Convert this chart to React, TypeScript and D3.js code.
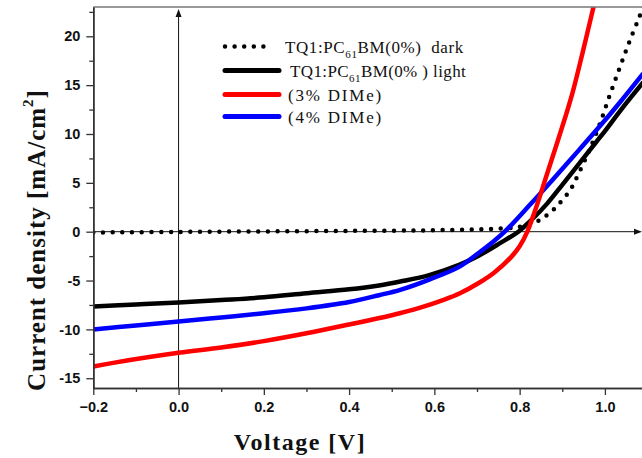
import React, { useRef, useEffect } from 'react';
import * as d3 from 'd3';

// J-V curves, [voltage (V), current density (mA/cm2)]
const darkCurve: [number, number][] = [
  [-0.2, -0.08], [0.0, -0.02], [0.2, 0.03], [0.4, 0.08], [0.6, 0.15], [0.7, 0.25], [0.77, 0.35],
  [0.8, 0.5], [0.834, 0.9], [0.854, 1.4], [0.873, 2.0], [0.889, 2.7], [0.905, 3.5], [0.919, 4.3],
  [0.93, 5.2], [0.96, 8.0], [0.987, 10.9], [1.01, 13.8], [1.034, 16.7], [1.057, 19.4], [1.08, 21.9], [1.095, 23.5],
];
const lightCurve: [number, number][] = [
  [-0.2, -7.65], [-0.1, -7.45], [0.0, -7.25], [0.1, -7.0], [0.2, -6.72], [0.3, -6.3], [0.4, -5.9],
  [0.47, -5.5], [0.52, -5.1], [0.588, -4.45], [0.658, -3.4], [0.706, -2.4], [0.753, -1.2], [0.797, 0.0],
  [0.83, 1.3], [0.865, 2.9], [0.9, 4.8], [0.94, 7.0], [0.98, 9.2], [1.0, 10.3], [1.04, 12.6], [1.09, 15.3],
];
const dime3Curve: [number, number][] = [
  [-0.2, -13.8], [-0.15, -13.4], [0.0, -12.4], [0.1, -11.85], [0.2, -11.2], [0.3, -10.4], [0.4, -9.5],
  [0.5, -8.55], [0.565, -7.8], [0.62, -7.0], [0.66, -6.3], [0.706, -5.2], [0.74, -4.2],
  [0.78, -2.6], [0.8, -1.5], [0.818, 0.0], [0.842, 2.9], [0.862, 5.6], [0.888, 9.1], [0.909, 12.0],
  [0.924, 14.2], [0.947, 18.2], [0.971, 22.6], [0.985, 25.2],
];
const dime4Curve: [number, number][] = [
  [-0.2, -10.0], [-0.1, -9.6], [0.0, -9.2], [0.1, -8.78], [0.2, -8.35], [0.3, -7.85], [0.4, -7.2],
  [0.47, -6.5], [0.52, -5.95], [0.588, -4.9], [0.658, -3.6], [0.706, -2.1], [0.74, -0.95], [0.765, 0.0],
  [0.823, 2.7], [0.877, 5.3], [0.94, 8.4], [1.0, 11.4], [1.04, 13.5], [1.09, 16.2],
];

const xMajorTicks = [-0.2, 0.0, 0.2, 0.4, 0.6, 0.8, 1.0];
const xMinorTicks = [-0.1, 0.1, 0.3, 0.5, 0.7, 0.9];
const yMajorTicks = [-15, -10, -5, 0, 5, 10, 15, 20];
const yMinorTicks = [-12.5, -7.5, -2.5, 2.5, 7.5, 12.5, 17.5, 22.5];

const legendItems = [
  { pre: 'TQ1:PC', sub: '61', post: 'BM(0%)  dark', color: '#000', dotted: true, dx: 60, spacing: 0.6 },
  { pre: 'TQ1:PC', sub: '61', post: 'BM(0% ) light', color: '#000', dotted: false, dx: 65, spacing: 0.4 },
  { pre: '(3% DIMe)', sub: '', post: '', color: '#ff0000', dotted: false, dx: 63, spacing: 1.8 },
  { pre: '(4% DIMe)', sub: '', post: '', color: '#0000ff', dotted: false, dx: 63, spacing: 1.8 },
];

const W = 642;
const H = 458;

const App = () => {
  const svgRef = useRef<SVGSVGElement>(null);

  useEffect(() => {
    const svg = d3.select(svgRef.current);
    svg.selectAll('*').remove();

    const left = 93.3, top = 7, right = 642, bottom = 388;
    const x = d3.scaleLinear().domain([-0.2, 1.087]).range([left, right]);
    const y = d3.scaleLinear().domain([-16, 23]).range([bottom, top]);

    svg.append('defs').append('clipPath').attr('id', 'plotClip')
      .append('rect')
      .attr('x', left).attr('y', top)
      .attr('width', right - left).attr('height', bottom - top);

    // zero lines with arrows
    svg.append('line')
      .attr('x1', x(0)).attr('x2', x(0))
      .attr('y1', bottom).attr('y2', 12)
      .attr('stroke', '#111').attr('stroke-width', 1);
    svg.append('path')
      .attr('d', `M${x(0)},9 L${x(0) - 3},17 L${x(0) + 3},17 Z`)
      .attr('fill', '#111');
    svg.append('line')
      .attr('x1', left).attr('x2', 636)
      .attr('y1', y(0)).attr('y2', y(0))
      .attr('stroke', '#111').attr('stroke-width', 1);
    svg.append('path')
      .attr('d', `M642,${y(0)} L634,${y(0) - 3} L634,${y(0) + 3} Z`)
      .attr('fill', '#111');

    // curves
    const line = d3.line<[number, number]>()
      .x(d => x(d[0]))
      .y(d => y(d[1]))
      .curve(d3.curveCatmullRom.alpha(0.5));

    const plot = svg.append('g').attr('clip-path', 'url(#plotClip)');
    plot.append('path').datum(darkCurve)
      .attr('d', line).attr('fill', 'none')
      .attr('stroke', '#000').attr('stroke-width', 4.5)
      .attr('stroke-linecap', 'round').attr('stroke-dasharray', '0 9.7');
    plot.append('path').datum(lightCurve)
      .attr('d', line).attr('fill', 'none')
      .attr('stroke', '#000').attr('stroke-width', 4.5);
    plot.append('path').datum(dime4Curve)
      .attr('d', line).attr('fill', 'none')
      .attr('stroke', '#0000ff').attr('stroke-width', 4.5);
    plot.append('path').datum(dime3Curve)
      .attr('d', line).attr('fill', 'none')
      .attr('stroke', '#ff0000').attr('stroke-width', 4.5);

    // frame
    svg.append('line')
      .attr('x1', left).attr('x2', right)
      .attr('y1', top).attr('y2', top)
      .attr('stroke', '#777').attr('stroke-width', 1.5);

    const styleAxis = (g: any) => {
      g.select('.domain').attr('stroke', '#333').attr('stroke-width', 1.5);
      g.selectAll('.tick line').attr('stroke', '#333').attr('stroke-width', 1.3);
      g.selectAll('.tick text')
        .attr('fill', '#111')
        .attr('font-family', '"Liberation Sans", Arial, sans-serif')
        .attr('font-weight', 'bold')
        .attr('font-size', '14.5px');
    };

    const xAxis = svg.append('g')
      .attr('transform', `translate(0,${bottom})`)
      .call(d3.axisBottom(x).tickValues(xMajorTicks).tickSize(7).tickSizeOuter(0).tickPadding(7)
        .tickFormat(d => d3.format('.1f')(d as number)));
    styleAxis(xAxis);
    const xMinor = svg.append('g')
      .attr('transform', `translate(0,${bottom})`)
      .call(d3.axisBottom(x).tickValues(xMinorTicks).tickSize(4).tickSizeOuter(0).tickFormat(() => ''));
    styleAxis(xMinor);

    const yAxis = svg.append('g')
      .attr('transform', `translate(${left},0)`)
      .call(d3.axisLeft(y).tickValues(yMajorTicks).tickSize(7).tickSizeOuter(0).tickPadding(6)
        .tickFormat(d => String(d)));
    styleAxis(yAxis);
    const yMinor = svg.append('g')
      .attr('transform', `translate(${left},0)`)
      .call(d3.axisLeft(y).tickValues(yMinorTicks).tickSize(4).tickSizeOuter(0).tickFormat(() => ''));
    styleAxis(yMinor);

    // axis titles
    svg.append('text')
      .attr('x', 300).attr('y', 450)
      .attr('text-anchor', 'middle')
      .attr('font-family', '"Liberation Serif", "Times New Roman", serif')
      .attr('font-weight', 'bold')
      .attr('font-size', '24px')
      .attr('letter-spacing', '1.5px')
      .attr('fill', '#111')
      .text('Voltage [V]');

    const yTitle = svg.append('text')
      .attr('transform', 'translate(45,240) rotate(-90)')
      .attr('text-anchor', 'middle')
      .attr('font-family', '"Liberation Serif", "Times New Roman", serif')
      .attr('font-weight', 'bold')
      .attr('font-size', '25px')
      .attr('letter-spacing', '1px')
      .attr('fill', '#111');
    yTitle.append('tspan').text('Current density [mA/cm');
    yTitle.append('tspan').attr('font-size', '15px').attr('dy', -12).text('2');
    yTitle.append('tspan').attr('dy', 12).text(']');

    // legend
    const rowY = [46.5, 70.5, 94.5, 116.5];
    const legend = svg.append('g');
    legendItems.forEach((item, i) => {
      const ly = rowY[i];
      legend.append('line')
        .attr('x1', 225).attr('x2', item.dotted ? 273 : 279)
        .attr('y1', ly).attr('y2', ly)
        .attr('stroke', item.color)
        .attr('stroke-width', item.dotted ? 4.5 : 5)
        .attr('stroke-linecap', 'round')
        .attr('stroke-dasharray', item.dotted ? '0 9.6' : null);
      const t = legend.append('text')
        .attr('x', 225 + item.dx).attr('y', ly + 6.5)
        .attr('font-family', '"Liberation Serif", "Times New Roman", serif')
        .attr('font-size', '17px')
        .attr('letter-spacing', `${item.spacing}px`)
        .attr('fill', '#111')
        .style('white-space', 'pre');
      t.append('tspan').text(item.pre);
      if (item.sub) {
        t.append('tspan').attr('font-size', '11px').attr('dy', 5).text(item.sub);
        t.append('tspan').attr('dy', -5).text(item.post);
      }
    });
  }, []);

  return (
    <svg
      ref={svgRef}
      width={W}
      height={H}
      style={{ position: 'absolute', left: 0, top: 0, background: '#fff' }}
    />
  );
};

export default App;
